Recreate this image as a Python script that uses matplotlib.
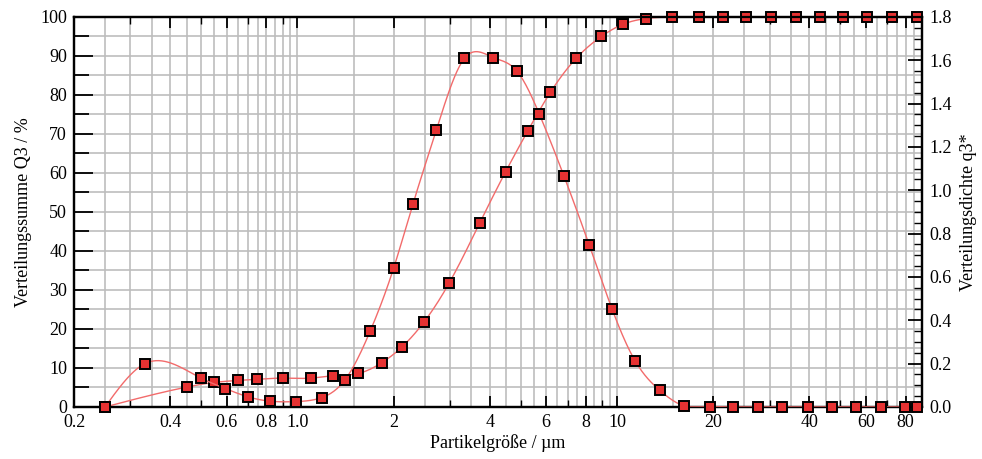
import numpy as np
import matplotlib.pyplot as plt
from matplotlib.ticker import FixedLocator, NullFormatter

plt.rcParams['font.family'] = ['Liberation Serif', 'DejaVu Serif']

# Verteilungssumme Q3 (%), left axis
x_sum = [0.25, 0.45, 0.55, 0.65, 0.745, 0.9, 1.1, 1.29, 1.55, 1.84, 2.13, 2.49,
         2.98, 3.72, 4.48, 5.25, 6.19, 7.45, 8.93, 10.42, 12.33, 14.9, 18.0,
         21.4, 25.3, 30.4, 36.3, 43.1, 51.0, 60.7, 72.6, 87.0]
q_sum = [0, 5.1, 6.3, 6.8, 7.1, 7.4, 7.4, 8.0, 8.6, 11.4, 15.5, 21.8,
         31.7, 47.2, 60.3, 70.7, 80.7, 89.4, 95.0, 98.1, 99.6, 100, 100,
         100, 100, 100, 100, 100, 100, 100, 100, 100]

# Verteilungsdichte q3*, right axis
x_dens = [0.25, 0.333, 0.5, 0.595, 0.7, 0.82, 0.99, 1.19, 1.41, 1.69, 2.0, 2.30,
          2.72, 3.33, 4.10, 4.85, 5.72, 6.83, 8.18, 9.65, 11.38, 13.6, 16.2,
          19.6, 23.1, 27.7, 32.9, 39.6, 47.0, 55.9, 66.9, 79.4, 87.0]
q_dens = [0, 0.200, 0.133, 0.085, 0.047, 0.027, 0.025, 0.043, 0.126, 0.351, 0.641, 0.938,
          1.278, 1.609, 1.613, 1.552, 1.350, 1.064, 0.749, 0.452, 0.214, 0.077, 0.005,
          0, 0, 0, 0, 0, 0, 0, 0, 0, 0]

xticks = [0.2, 0.4, 0.6, 0.8, 1.0, 2, 4, 6, 8, 10, 20, 40, 60, 80]
xticklabels = ['0.2', '0.4', '0.6', '0.8', '1.0', '2', '4', '6', '8', '10', '20', '40', '60', '80']


def smooth(x, y, n=800):
    # natural cubic spline through the points, in log x
    t = np.log10(np.array(x, dtype=float))
    y = np.array(y, dtype=float)
    m = len(t)
    h = np.diff(t)
    A = np.zeros((m, m))
    b = np.zeros(m)
    A[0, 0] = 1
    A[-1, -1] = 1
    for i in range(1, m - 1):
        A[i, i - 1] = h[i - 1]
        A[i, i] = 2 * (h[i - 1] + h[i])
        A[i, i + 1] = h[i]
        b[i] = 6 * ((y[i + 1] - y[i]) / h[i] - (y[i] - y[i - 1]) / h[i - 1])
    M = np.linalg.solve(A, b)
    tt = np.linspace(t[0], t[-1], n)
    k = np.clip(np.searchsorted(t, tt) - 1, 0, m - 2)
    a = t[k + 1] - tt
    c = tt - t[k]
    hk = h[k]
    yy = (M[k] * a**3 / (6 * hk) + M[k + 1] * c**3 / (6 * hk)
          + (y[k] / hk - M[k] * hk / 6) * a + (y[k + 1] / hk - M[k + 1] * hk / 6) * c)
    return 10**tt, yy


fig = plt.figure(figsize=(9.82, 4.59), dpi=100)
ax = fig.add_axes([0.0754, 0.1133, 0.8635, 0.8497])
ax2 = ax.twinx()

ax.set_xscale('log')
ax.set_xlim(0.2, 90)
ax.set_ylim(0, 100)
ax2.set_ylim(0, 1.8)

# grid
grid_x = list(np.arange(0.25, 1.0001, 0.05)) + list(np.arange(1.5, 10.001, 0.5)) + list(np.arange(15, 90, 5))
for gx in grid_x:
    ax.axvline(gx, color='#bdbdbd', lw=1.2, zorder=0)
for gy in np.arange(5, 100, 5):
    ax.axhline(gy, color='#bdbdbd', lw=1.2, zorder=0)

line_col = '#f26b6b'
mark = dict(marker='s', ms=7.8, mfc='#e63232', mec='black', mew=1.4, ls='none', clip_on=False, zorder=5)

sx, sy = smooth(x_sum, q_sum)
ax.plot(sx, np.clip(sy, 0, 100), color=line_col, lw=1.0, zorder=3)
ax.plot(x_sum, q_sum, **mark)

dx, dy = smooth(x_dens, q_dens)
ax2.plot(dx, np.clip(dy, 0, 1.8), color=line_col, lw=1.0, zorder=3)
ax2.plot(x_dens, q_dens, **mark)

# ticks
ax.xaxis.set_major_locator(FixedLocator(xticks))
ax.set_xticklabels(xticklabels)
minor_x = [v * d for d in (0.1, 1, 10) for v in range(1, 10) if 0.2 < v * d < 90]
ax.xaxis.set_minor_locator(FixedLocator(minor_x))
ax.xaxis.set_minor_formatter(NullFormatter())
ax.tick_params(axis='x', which='major', direction='in', length=8, width=1.3, top=True, labelsize=13, pad=5)
ax.tick_params(axis='x', which='minor', direction='in', length=5, width=1.0, top=True)

ax.set_yticks(np.arange(0, 101, 10))
ax.set_yticks(np.arange(5, 100, 10), minor=True)
ax.tick_params(axis='y', which='major', direction='in', length=14, width=1.3, labelsize=13, pad=5)
ax.tick_params(axis='y', which='minor', direction='in', length=11, width=1.3)

ax2.set_yticks(np.arange(0, 1.81, 0.2))
ax2.set_yticklabels(['%.1f' % v for v in np.arange(0, 1.81, 0.2)])
ax2.set_yticks(np.arange(0, 1.81, 0.05), minor=True)
ax2.tick_params(axis='y', which='major', direction='in', length=10, width=1.3, labelsize=13, pad=5)
ax2.tick_params(axis='y', which='minor', direction='in', length=6, width=1.0)

for a in (ax, ax2):
    for s in a.spines.values():
        s.set_linewidth(1.6)

ax.set_xlabel('Partikelgröße / µm', fontsize=13, labelpad=2)
ax.set_ylabel('Verteilungssumme Q3 / %', fontsize=13, labelpad=6)
ax2.set_ylabel('Verteilungsdichte q3*', fontsize=13, labelpad=6)

fig.savefig('out.png', dpi=100)
